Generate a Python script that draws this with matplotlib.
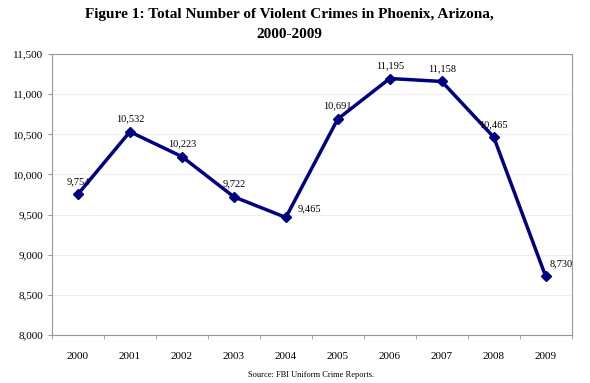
import matplotlib.pyplot as plt
from matplotlib.ticker import FuncFormatter, FixedLocator
import numpy as np

years = ['2000', '2001', '2002', '2003', '2004', '2005', '2006', '2007', '2008', '2009']
crimes = [9754, 10532, 10223, 9722, 9465, 10691, 11195, 11158, 10465, 8730]

plt.rcParams['font.family'] = ['Liberation Serif', 'DejaVu Serif']

fig = plt.figure(figsize=(5.9, 3.83), dpi=100)
ax = fig.add_axes([0.088, 0.125, 0.881, 0.734])

x = np.arange(len(years))
ax.plot(x, crimes, color='#000080', linewidth=2.5, marker='D', markersize=5.5,
        markerfacecolor='#000080', markeredgecolor='#000080')

# подписи значений
for i, v in enumerate(crimes):
    label = f'{v:,}'
    if i == 4:
        off = (17, 3)
    elif i == 9:
        off = (11, 6)
    else:
        off = (0, 6)
    ax.annotate(label, (i, v), xytext=off, textcoords='offset points',
                ha='center', va='bottom', fontsize=7.5)

ax.set_xlim(-0.5, len(years) - 0.5)
ax.set_ylim(8000, 11500)
ax.set_yticks(np.arange(8000, 11501, 500))
ax.yaxis.set_major_formatter(FuncFormatter(lambda v, p: f'{int(v):,}'))
ax.grid(axis='y', color='#eeeeee', linewidth=0.8)
ax.set_axisbelow(True)

ax.set_xticks(x)
ax.set_xticklabels(years)
ax.xaxis.set_minor_locator(FixedLocator(np.arange(-0.5, len(years), 1)))
ax.tick_params(axis='x', which='major', length=0, pad=12, labelsize=8)
ax.tick_params(axis='x', which='minor', length=3, color='#999999')
ax.tick_params(axis='y', length=3, color='#999999', labelsize=8)

for s in ax.spines.values():
    s.set_color('#999999')
    s.set_linewidth(0.8)

fig.text(0.49, 0.978, 'Figure 1: Total Number of Violent Crimes in Phoenix, Arizona,\n2000-2009',
         ha='center', va='top', fontsize=11, fontweight='bold', linespacing=1.7)
fig.text(0.527, 0.01, 'Source: FBI Uniform Crime Reports.', ha='center', va='bottom', fontsize=6)

fig.savefig('out.png', dpi=100)
